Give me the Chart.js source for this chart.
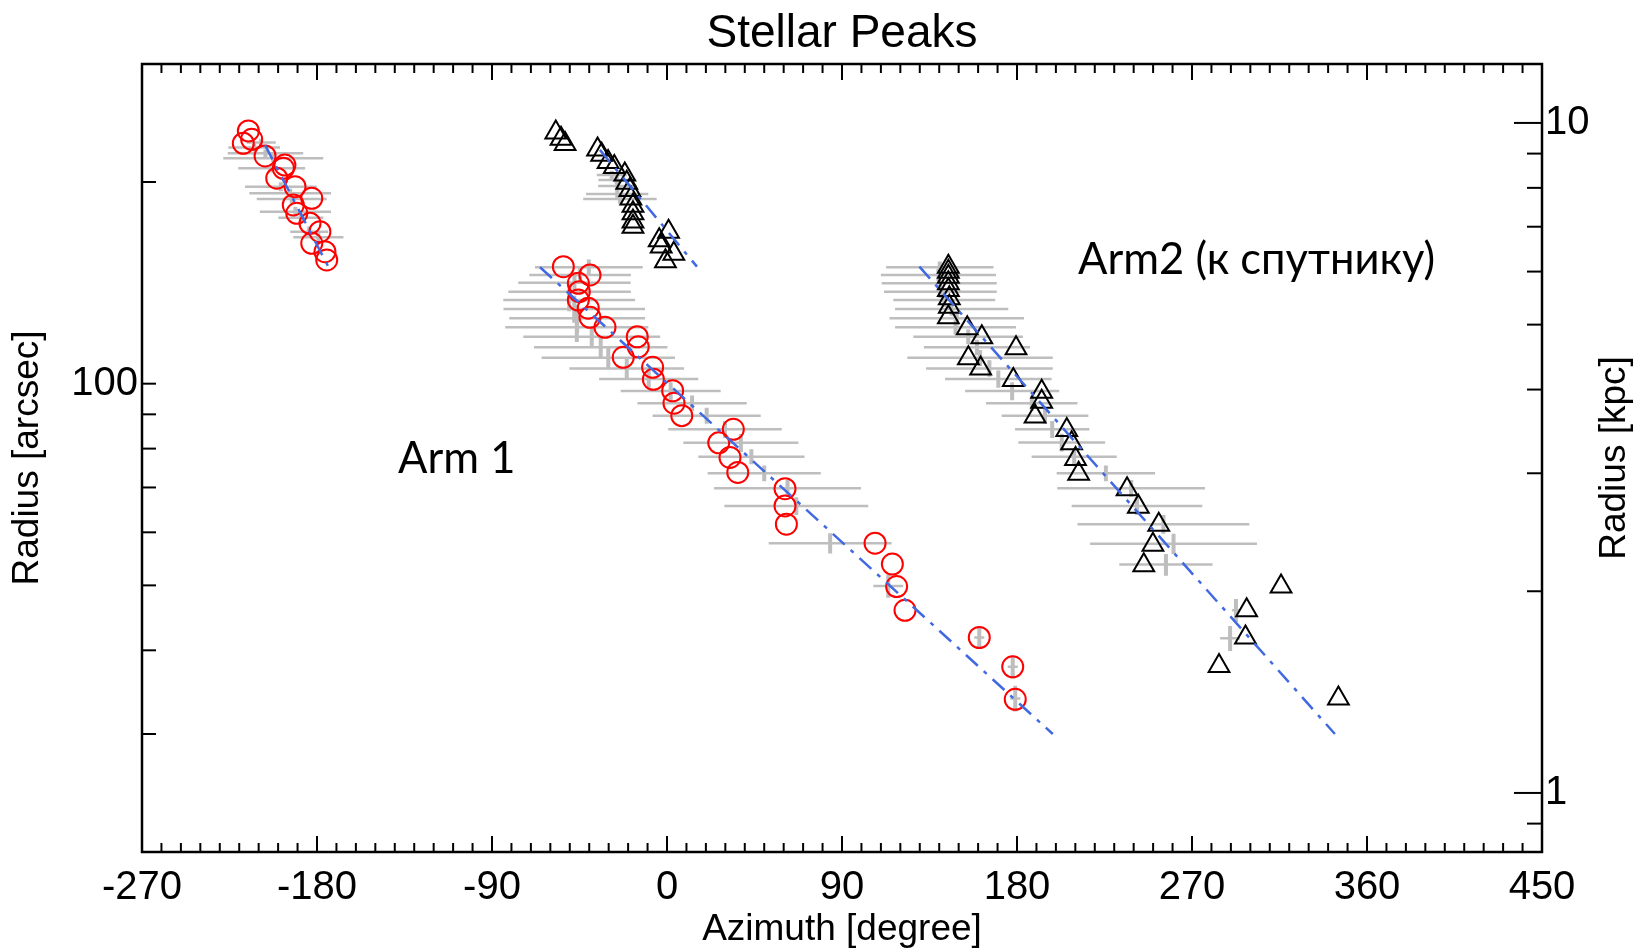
<!DOCTYPE html>
<html>
<head>
<meta charset="utf-8">
<title>Stellar Peaks</title>
<script src="https://cdn.jsdelivr.net/npm/chart.js@4.4.0/dist/chart.umd.min.js"></script>
<style>
  html, body { margin: 0; padding: 0; background: #fff; }
</style>
</head>
<body>
<canvas id="peaks" width="1638" height="948"></canvas>
<script>
// Arm 1 peaks (red circles): azimuth [deg], radius [arcsec]
const arm1Az = [-215.3, -217.9, -213.6, -206.7, -196.5, -197.3, -200.7, -191.3, -182.7, -192.2, -190.4, -183.6, -178.5, -182.7, -175.9, -175.0,
  -53.3, -39.6, -45.6, -45.1, -45.6, -40.5, -39.6, -31.9, -15.3, -14.8, -22.5, -7.4, -7.0, 2.9, 3.6, 7.6,
  34.1, 26.6, 32.4, 36.4, 60.7, 60.7, 61.4, 107.0, 115.9, 118.1, 122.4, 160.6, 177.8, 179.1];
const arm1R = [238.4, 228.4, 231.6, 218.7, 212.0, 209.6, 202.6, 196.8, 189.1, 184.8, 179.6, 173.5, 168.6, 162.0, 157.4, 153.0,
  149.5, 145.3, 141.2, 137.2, 133.3, 129.6, 125.6, 121.4, 117.5, 113.5, 109.5, 105.8, 101.5, 97.6, 93.5, 89.6,
  85.5, 81.6, 77.6, 73.7, 69.7, 65.7, 61.7, 57.8, 53.8, 49.8, 45.9, 41.8, 37.8, 33.8];

// Arm 2 peaks (black triangles)
const arm2Az = [-57.2, -54.5, -52.4, -35.7, -33.6, -30.3, -27.1, -21.7, -20.7, -19.1, -18.6, -17.5, -17.5, -17.5, -17.5, 0.8, -4.0, -3.0, 3.5, -0.8,
  144.7, 144.7, 144.7, 144.7, 144.7, 145.2, 145.2, 144.7, 154.4, 161.9, 179.5, 155.0, 161.3, 178.1, 192.7, 192.7,
  189.3, 205.6, 208.1, 210.1, 211.7, 236.6, 242.4, 252.9, 249.9, 245.2, 315.8, 298.1, 297.5, 283.9, 345.3];
const arm2R = [237.0, 232.0, 227.8, 223.7, 219.7, 214.3, 210.5, 205.2, 199.4, 194.5, 189.0, 184.3, 179.7, 174.6, 171.5, 168.5, 163.7, 160.2, 156.3, 152.3,
  149.5, 146.9, 144.4, 141.2, 138.0, 134.1, 130.3, 125.6, 121.0, 117.3, 112.9, 109.1, 105.4, 101.3, 97.3, 94.0,
  89.3, 85.3, 81.5, 77.2, 73.4, 69.6, 65.5, 61.6, 57.5, 53.6, 49.8, 45.9, 41.8, 37.9, 33.9];

// gray peaks with error bars
const grayAz = [-208.7, -212.3, -206.5, -202.5, -203.3, -198.6, -193.8, -193.0, -191.1, -188.3, -184.0, -179.3,
  -40.2, -44.7, -47.6, -50.1, -50.3, -47.7, -46.2, -46.4, -38.7, -34.1, -30.2, -20.7, -9.4, 1.9, 12.9, 20.4,
  29.8, 38.0, 43.4, 50.0, 62.0, 66.5, 83.9, 113.8, 160.6, 177.8, 179.1,
  -28.4, -25.9, -25.5, -25.6, -24.2,
  140.3, 139.6, 140.0, 140.6, 142.6, 146.4, 149.0, 148.4, 154.9, 159.4, 161.0, 165.8, 170.4, 177.5, 187.6, 194.4,
  198.1, 203.0, 209.4, 225.7, 238.7, 241.7, 255.3, 260.5, 256.6, 292.6, 289.6];
const grayR = [229.0, 225.1, 220.7, 217.0, 209.6, 196.8, 192.4, 188.6, 180.6, 176.9, 168.6, 165.4,
  149.2, 145.3, 141.5, 137.2, 133.3, 129.3, 125.2, 121.4, 117.5, 113.3, 109.3, 105.4, 101.6, 97.5, 93.5, 89.6,
  85.5, 81.6, 77.8, 73.5, 69.8, 65.7, 57.8, 49.9, 41.8, 37.8, 33.9,
  204.9, 201.4, 197.3, 191.9, 188.6,
  149.2, 145.3, 141.2, 137.2, 133.3, 129.3, 125.2, 121.4, 117.5, 113.3, 109.3, 105.4, 101.6, 97.5, 93.5, 89.6,
  85.5, 81.7, 77.8, 73.5, 69.8, 65.7, 61.7, 57.7, 53.7, 45.9, 41.7];
const grayAzErr = [7.5, 13.3, 19.4, 25.7, 17.2, 18.4, 21.0, 18.0, 18.3, 11.6, 9.8, 12.9,
  27.7, 26.1, 28.9, 31.5, 33.9, 36.4, 34.9, 36.8, 35.2, 34.3, 34.3, 29.5, 25.5, 25.7, 28.1, 27.8,
  29.2, 29.6, 27.3, 29.1, 37.8, 37.0, 31.6, 7.7, 2.6, 2.6, 2.6,
  7.7, 9.4, 9.9, 16.0, 18.9,
  27.6, 29.6, 29.6, 29.0, 26.2, 29.1, 34.6, 31.1, 28.2, 27.3, 37.4, 32.6, 27.4, 24.2, 23.5, 22.3,
  19.1, 22.3, 21.9, 25.3, 38.0, 33.6, 44.2, 42.9, 24.0, 2.0, 5.1];
const grayRErr = [3, 3, 3, 3, 3, 3, 3, 3, 3, 3, 3, 3,
  4, 4, 5, 5, 5, 6, 6, 6, 4, 4, 4, 4, 3, 3, 2.5, 2.5,
  2.5, 2.5, 2, 2, 2, 2, 2, 2, 1.5, 1.5, 1.5,
  3, 3, 3, 3, 3,
  3, 3, 3, 3, 3, 3, 3, 3, 3, 3, 3, 3, 3, 3, 2.5, 2.5,
  2.5, 2.5, 2, 2, 2, 2, 2, 2, 2, 1.8, 1.8];

// log-spiral fits (dash-dot), one segment each
const fitAzStart = [-206.7, -65.3, -34.5, 129.8];
const fitAzEnd = [-174.2, 198.4, 15.4, 343.5];
const fitRStart = [227.0, 149.2, 223.3, 149.5];
const fitREnd = [149.5, 30.0, 149.5, 30.0];

// axes
const kpcPerArcsec = 1 / 24.5;
const xMajorTicks = [-270, -180, -90, 0, 90, 180, 270, 360, 450];
const leftTickValues = [30, 40, 50, 60, 70, 80, 90, 100, 200];
const leftTickLabels = [100];
const rightTickValues = [0.9, 2, 3, 4, 5, 6, 7, 8, 9];
const rightTickLabels = [1, 10];

// text labels on the plot
const noteText = ['Arm 1', 'Arm2 (к спутнику)'];
const noteAz = [-138.3, 211.4];
const noteR = [73.5, 146.0];

const pts = (xs, ys) => xs.map((x, i) => ({x: x, y: ys[i]}));

function hBars(az, r, err) {
  const out = [];
  az.forEach((a, i) => {
    out.push({x: a - err[i], y: r[i]}, {x: a + err[i], y: r[i]}, {x: a, y: null});
  });
  return out;
}
function vBars(az, r, err) {
  const out = [];
  az.forEach((a, i) => {
    out.push({x: a, y: r[i] - err[i]}, {x: a, y: r[i] + err[i]}, {x: a, y: null});
  });
  return out;
}
function segments(x0, x1, y0, y1) {
  const out = [];
  x0.forEach((x, i) => {
    out.push({x: x, y: y0[i]}, {x: x1[i], y: y1[i]}, {x: x1[i], y: null});
  });
  return out;
}

const axisFont = "'Liberation Sans', Arial, sans-serif";
Chart.defaults.font.family = axisFont;
Chart.defaults.color = '#000';

// frame, inward ticks, title and free text
const frameTicks = {
  id: 'frameTicks',
  afterDatasetsDraw(chart) {
    const {ctx, chartArea: a, scales} = chart;
    const line = (x0, y0, x1, y1) => { ctx.beginPath(); ctx.moveTo(x0, y0); ctx.lineTo(x1, y1); ctx.stroke(); };
    ctx.save();
    ctx.strokeStyle = '#000';
    ctx.lineWidth = 2;
    for (let v = -270; v <= 450; v += 10) {
      const px = scales.x.getPixelForValue(v);
      const len = xMajorTicks.includes(v) ? 16 : 9;
      line(px, a.bottom, px, a.bottom - len);
      line(px, a.top, px, a.top + len);
    }
    leftTickValues.forEach(v => {
      const py = scales.y.getPixelForValue(v);
      line(a.left, py, a.left + 14, py);
    });
    rightTickValues.forEach(v => {
      const py = scales.y2.getPixelForValue(v);
      line(a.right, py, a.right - 15, py);
    });
    rightTickLabels.forEach(v => {
      const py = scales.y2.getPixelForValue(v);
      line(a.right, py, a.right - 28, py);
    });
    ctx.lineWidth = 2.5;
    ctx.strokeRect(a.left, a.top, a.right - a.left, a.bottom - a.top);

    ctx.fillStyle = '#000';

    // title, centred over the plot box
    ctx.font = '46px ' + axisFont;
    ctx.textAlign = 'center';
    ctx.textBaseline = 'alphabetic';
    ctx.fillText('Stellar Peaks', (a.left + a.right) / 2, 47);

    // notes
    ctx.font = "43.5px Lato, 'Noto Sans', sans-serif";
    ctx.textAlign = 'left';
    noteText.forEach((t, i) => {
      ctx.fillText(t, scales.x.getPixelForValue(noteAz[i]), scales.y.getPixelForValue(noteR[i]));
    });

    // right axis title, reading bottom to top
    ctx.font = '37px ' + axisFont;
    ctx.textAlign = 'center';
    ctx.textBaseline = 'middle';
    ctx.translate(scales.y2.right - 23, (a.top + a.bottom) / 2);
    ctx.rotate(-Math.PI / 2);
    ctx.fillText('Radius [kpc]', 0, 0);
    ctx.restore();
  }
};

new Chart(document.getElementById('peaks'), {
  type: 'scatter',
  data: {
    datasets: [
      {
        label: 'fits',
        data: segments(fitAzStart, fitAzEnd, fitRStart, fitREnd),
        showLine: true,
        borderColor: '#4169e1',
        borderWidth: 2.5,
        borderDash: [16, 8, 4, 8],
        pointRadius: 0,
        order: 0
      },
      {
        label: 'Arm 1',
        data: pts(arm1Az, arm1R),
        pointStyle: 'circle',
        pointRadius: 10.5,
        pointBorderWidth: 2,
        pointBorderColor: '#ff0000',
        pointBackgroundColor: 'rgba(0,0,0,0)',
        order: 1
      },
      {
        label: 'Arm 2',
        data: pts(arm2Az, arm2R),
        pointStyle: 'triangle',
        pointRadius: 12,
        pointBorderWidth: 2,
        pointBorderColor: '#000',
        pointBackgroundColor: 'rgba(0,0,0,0)',
        order: 1
      },
      {
        label: 'azimuth error',
        data: hBars(grayAz, grayR, grayAzErr),
        showLine: true,
        borderColor: '#bebebe',
        borderWidth: 2.5,
        pointRadius: 0,
        order: 3
      },
      {
        label: 'radius error',
        data: vBars(grayAz, grayR, grayRErr),
        showLine: true,
        borderColor: '#bebebe',
        borderWidth: 4,
        pointRadius: 0,
        order: 2
      }
    ]
  },
  options: {
    responsive: false,
    devicePixelRatio: 1,
    animation: false,
    layout: { padding: { top: 64 } },
    plugins: {
      legend: { display: false },
      tooltip: { enabled: false },
      title: { display: false }
    },
    scales: {
      x: {
        type: 'linear',
        position: 'bottom',
        min: -270,
        max: 450,
        grid: { display: false, drawTicks: false },
        border: { display: false },
        afterBuildTicks: s => { s.ticks = xMajorTicks.map(v => ({value: v})); },
        afterFit: s => { s.height = 96; },
        ticks: {
          font: { size: 40 },
          color: '#000',
          padding: 12,
          maxRotation: 0,
          autoSkip: false,
          callback: v => String(v)
        },
        title: {
          display: true,
          text: 'Azimuth [degree]',
          color: '#000',
          font: { size: 37, lineHeight: 0.8 },
          padding: { top: 0, bottom: 3.7 }
        }
      },
      y: {
        type: 'logarithmic',
        position: 'left',
        min: 20,
        max: 300,
        grid: { display: false, drawTicks: false },
        border: { display: false },
        afterBuildTicks: s => { s.ticks = leftTickLabels.map(v => ({value: v})); },
        afterFit: s => { s.width = 142; },
        ticks: {
          font: { size: 40 },
          color: '#000',
          padding: 4,
          autoSkip: false,
          callback: v => String(v)
        },
        title: {
          display: true,
          text: 'Radius [arcsec]',
          color: '#000',
          font: { size: 37, lineHeight: 1 },
          padding: { top: 9, bottom: 0 }
        }
      },
      y2: {
        type: 'logarithmic',
        position: 'right',
        min: 20 * kpcPerArcsec,
        max: 300 * kpcPerArcsec,
        grid: { display: false, drawTicks: false },
        border: { display: false },
        afterBuildTicks: s => { s.ticks = rightTickLabels.map(v => ({value: v})); },
        afterFit: s => { s.width = 96; },
        ticks: {
          font: { size: 40 },
          color: '#000',
          padding: 3,
          autoSkip: false,
          callback: v => String(v)
        }
      }
    }
  },
  plugins: [frameTicks]
});
</script>
</body>
</html>
